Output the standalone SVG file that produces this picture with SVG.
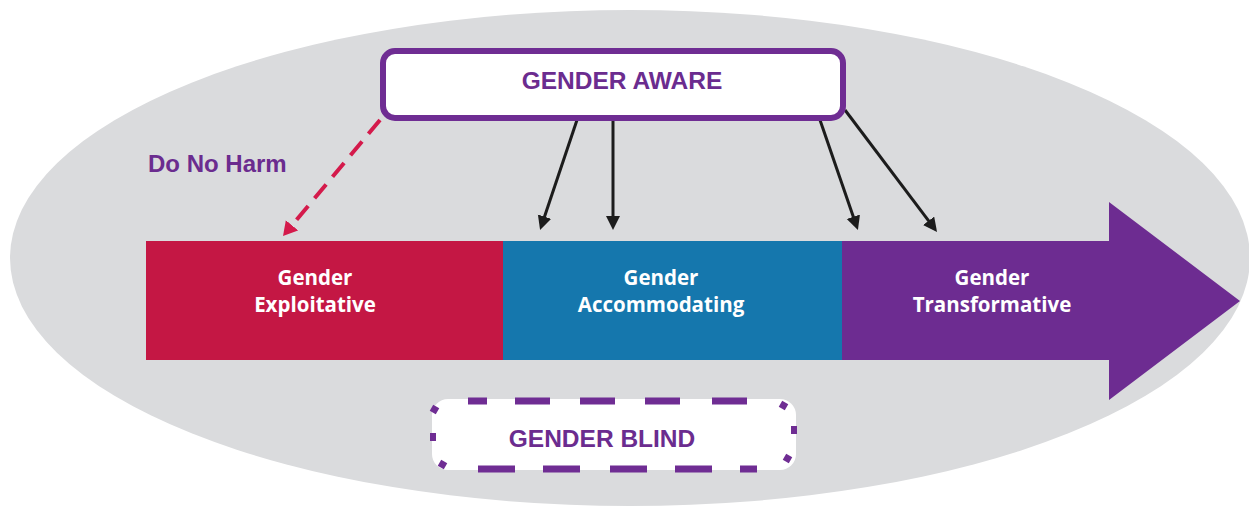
<svg xmlns="http://www.w3.org/2000/svg" width="1249" height="510" viewBox="0 0 1249 510">
  <style>
    .seg-label { font-family: "Open Sans", "Liberation Sans", sans-serif; font-weight: 700; font-size: 20.5px; fill: #ffffff; text-anchor: middle; }
    .box-label { font-family: "Liberation Sans", Arial, sans-serif; font-weight: 700; font-size: 24.5px; fill: #6b2c8f; text-anchor: middle; }
    .conn { stroke: #1c1c1c; stroke-width: 3; fill: none; }
    .harm { stroke: #d41a4b; stroke-width: 4; fill: none; stroke-dasharray: 18 10; }
    .blind-dash { stroke: #6f2d93; stroke-width: 7; fill: none; }
    .blind-dot { fill: #6f2d93; }
  </style>
  <defs>
    <marker id="ah-black" markerUnits="userSpaceOnUse" markerWidth="16" markerHeight="16" refX="2" refY="7" orient="auto">
      <path d="M0,0 L14,7 L0,14 z" fill="#1c1c1c"/>
    </marker>
    <marker id="ah-red" markerUnits="userSpaceOnUse" markerWidth="18" markerHeight="18" refX="2" refY="8" orient="auto">
      <path d="M0,0 L14,8 L0,16 z" fill="#d41a4b"/>
    </marker>
  </defs>
  <rect x="0" y="0" width="1249" height="510" fill="#ffffff"/>
  <g id="background">
    <ellipse cx="630" cy="258" rx="620" ry="248" fill="#dadbdd"/>
  </g>
  <g id="continuum">
    <g id="exploitative">
      <rect x="146" y="241" width="357" height="119" fill="#c41744"/>
      <text class="seg-label" x="315" y="285">Gender</text>
      <text class="seg-label" x="315" y="312">Exploitative</text>
    </g>
    <g id="accommodating">
      <rect x="503" y="241" width="339" height="119" fill="#1577ad"/>
      <text class="seg-label" x="661" y="285">Gender</text>
      <text class="seg-label" x="661" y="312">Accommodating</text>
    </g>
    <g id="transformative">
      <path d="M842,241 L1109,241 L1109,202 L1240,301 L1109,400 L1109,360 L842,360 z" fill="#6d2c91"/>
      <text class="seg-label" x="992" y="285">Gender</text>
      <text class="seg-label" x="992" y="312">Transformative</text>
    </g>
  </g>
  <g id="connectors">
    <line class="harm" x1="380" y1="120" x2="290.7" y2="226.8" marker-end="url(#ah-red)"/>
    <line class="conn" x1="577" y1="120" x2="543.9" y2="218.6" marker-end="url(#ah-black)"/>
    <line class="conn" x1="613" y1="120" x2="613" y2="218" marker-end="url(#ah-black)"/>
    <line class="conn" x1="820" y1="120" x2="854" y2="218.7" marker-end="url(#ah-black)"/>
    <line class="conn" x1="845" y1="110" x2="929.8" y2="222.4" marker-end="url(#ah-black)"/>
  </g>
  <g id="do-no-harm">
    <text x="148" y="172" font-family="Liberation Sans, Arial, sans-serif" font-weight="700" font-size="24" fill="#6b2c8f">Do No Harm</text>
  </g>
  <g id="gender-aware">
    <rect x="383" y="51" width="460" height="67" rx="12" ry="12" fill="#ffffff" stroke="#6f2d93" stroke-width="6"/>
    <text class="box-label" x="622" y="89">GENDER AWARE</text>
  </g>
  <g id="gender-blind">
    <rect x="432" y="399" width="364" height="71" rx="16" ry="16" fill="#ffffff"/>
    <path class="blind-dash" d="M468,401 H487 M515,401 H550 M580,401 H615 M645,401 H680 M712,401 H747 M478,469 H515 M543,469 H580 M610,469 H647 M675,469 H712 M740,469 H757"/>
    <rect class="blind-dot" x="431" y="406" width="7" height="7" transform="rotate(30 434.5 409.5)"/>
    <rect class="blind-dot" x="430" y="433" width="6" height="8"/>
    <rect class="blind-dot" x="439" y="461" width="7" height="7" transform="rotate(30 442.5 464.5)"/>
    <rect class="blind-dot" x="780" y="402" width="7" height="7" transform="rotate(30 783.5 405.5)"/>
    <rect class="blind-dot" x="791" y="426" width="6" height="8"/>
    <rect class="blind-dot" x="784" y="455" width="7" height="7" transform="rotate(30 787.5 458.5)"/>
    <text class="box-label" x="602" y="447">GENDER BLIND</text>
  </g>
</svg>
